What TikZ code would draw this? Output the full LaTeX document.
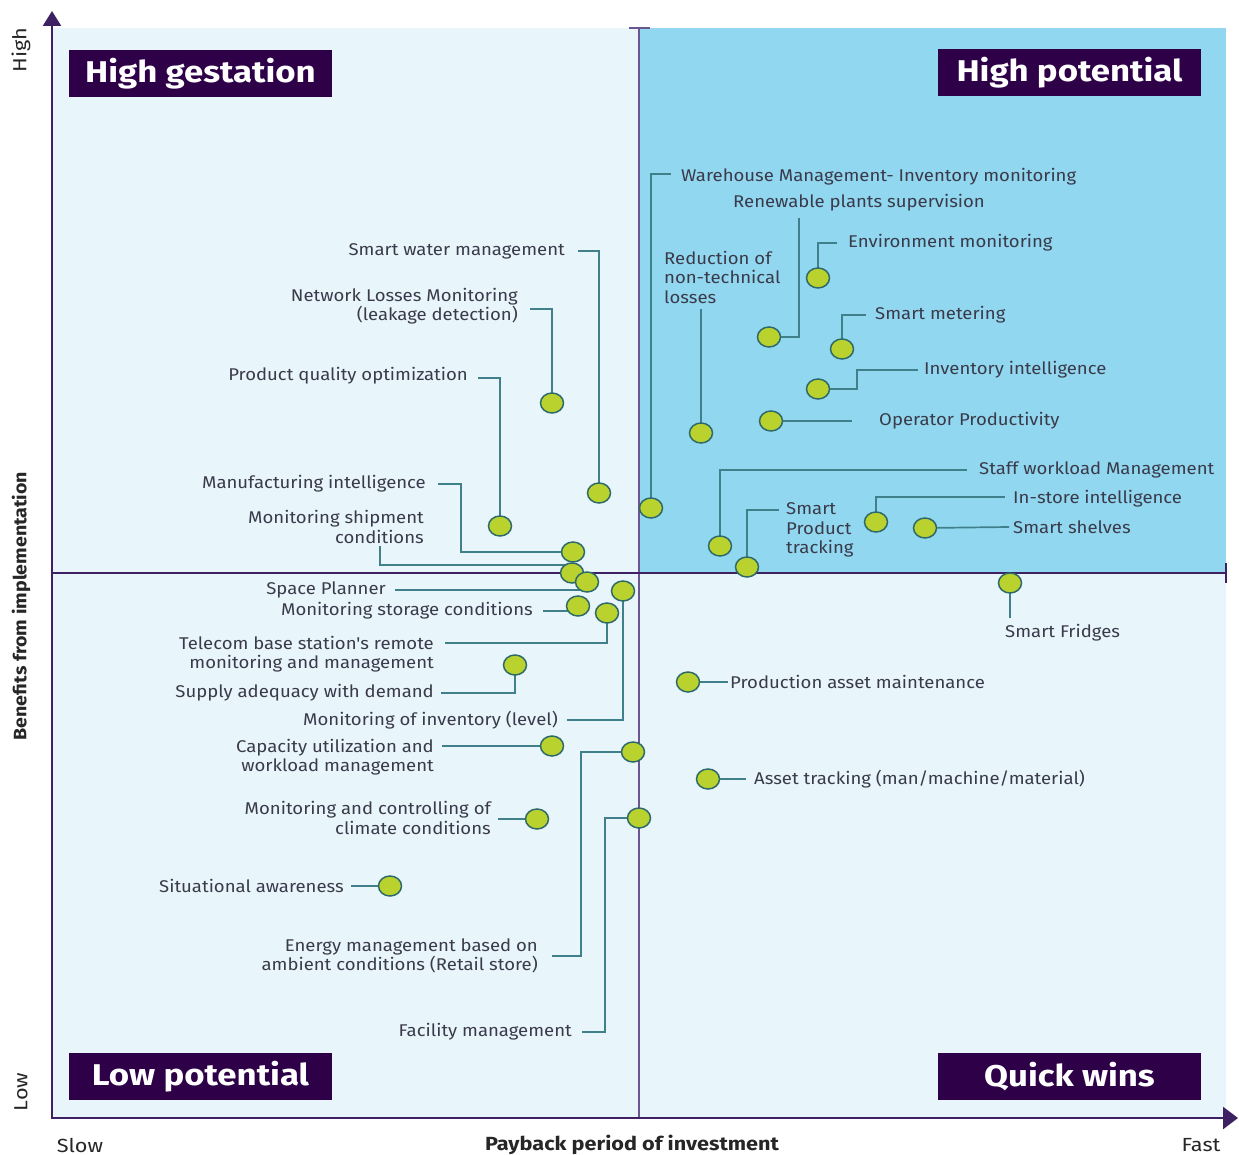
\documentclass[tikz,border=0pt]{standalone}
\usepackage{fontspec}
\setmainfont{Fira Sans}
\newfontfamily\lblfont[FakeStretch=1.09]{Fira Sans}
\newfontfamily\ttlfont[FakeStretch=1.16]{Fira Sans}
\newfontfamily\axfont[FakeStretch=1.14]{Fira Sans}
\usetikzlibrary{arrows.meta,shapes.geometric,calc}
\definecolor{bgl}{HTML}{E8F5FB}
\definecolor{bgd}{HTML}{91D7EF}
\definecolor{navy}{HTML}{2D0048}
\definecolor{axisc}{HTML}{3E2163}
\definecolor{midl}{HTML}{6A5690}
\definecolor{connc}{HTML}{3F808A}
\definecolor{dotf}{HTML}{BAD22E}
\definecolor{dotd}{HTML}{2E6A6A}
\definecolor{txt}{HTML}{3A3A4A}
\begin{document}
\begin{tikzpicture}[x=1pt,y=-1pt,
  lbl/.style={inner sep=0pt, text=txt, font=\lblfont\fontsize{17}{19.5}\selectfont},
  lblr/.style={lbl, anchor=east, align=right},
  lbll/.style={lbl, anchor=west, align=left},
  cn/.style={draw=connc, line width=1.7pt},
  dot/.style={ellipse, draw=dotd, fill=dotf, line width=1.5pt, minimum width=23pt, minimum height=20pt, inner sep=0pt},
  qtitle/.style={fill=navy, text=white, font=\ttlfont\fontsize{30}{32}\selectfont\bfseries, minimum width=263pt, minimum height=47pt, inner sep=0pt},
  axlbl/.style={inner sep=0pt, text=black!85, font=\axfont\fontsize{19}{21}\selectfont},
]
\useasboundingbox (0,0) rectangle (1239,1155);
% backgrounds
\fill[bgl] (52,28) rectangle (1226,1118);
\fill[bgd] (639,28) rectangle (1226,573);
% mid lines
\draw[midl, line width=2.5pt] (639,28) -- (639,1118);
\draw[midl, line width=2.5pt] (629,28) -- (650,28);
\draw[axisc, line width=2pt] (52,573) -- (1226,573);
\draw[axisc, line width=2pt] (1226,563) -- (1226,583);
% axes
\draw[axisc, line width=2.5pt, -{Triangle[length=15pt,width=18pt]}] (52,1119) -- (52,11);
\draw[axisc, line width=2.5pt, -{Triangle[length=15pt,width=22pt]}] (51,1118) -- (1238,1118);
% quadrant titles
\node[qtitle] (hg) at (200.5,73.5) {High gestation};
\node[qtitle] (hp) at (1069.5,73) {High potential};
\node[qtitle] (lp) at (200.5,1076.5) {Low potential};
\node[qtitle] (qw) at (1069.5,1076.5) {Quick wins};
% axis labels
\node[axlbl, rotate=90] (high) at (21,50) {High};
\node[axlbl, rotate=90] (low) at (21,1092) {Low};
\node[axlbl, rotate=90, font=\lblfont\fontsize{18}{20}\selectfont\bfseries] (ben) at (21,606) {Benefits from implementation};
\node[axlbl] (slow) at (80,1145) {Slow};
\node[axlbl, font=\axfont\fontsize{19}{21}\selectfont\bfseries] (pay) at (632,1145) {Payback period of investment};
\node[axlbl] (fast) at (1201,1145) {Fast};
% labels left
\node[lblr] (t1) at (565,251) {Smart water management};
\node[lblr] (t2) at (518,306) {Network Losses Monitoring\\(leakage detection)};
\node[lblr] (t3) at (468,376) {Product quality optimization};
\node[lblr] (t4) at (426,484) {Manufacturing intelligence};
\node[lblr] (t5) at (424,527) {Monitoring shipment\\conditions};
\node[lblr] (t6) at (386,590) {Space Planner};
\node[lblr] (t7) at (533,611) {Monitoring storage conditions};
\node[lblr] (t8) at (434,654) {Telecom base station's remote\\monitoring and management};
\node[lblr] (t9) at (434,693) {Supply adequacy with demand};
\node[lblr] (t10) at (558,720) {Monitoring of inventory (level)};
\node[lblr] (t11) at (434,757) {Capacity utilization and\\workload management};
\node[lblr] (t12) at (538,956) {Energy management based on\\ambient conditions (Retail store)};
\node[lblr] (t13) at (491,818) {Monitoring and controlling of\\climate conditions};
\node[lblr] (t14) at (572,1032) {Facility management};
\node[lblr] (t15) at (344,886) {Situational awareness};
% labels right
\node[lbll] (u16) at (681,177) {Warehouse Management- Inventory monitoring};
\node[lbll] (u17) at (733,203) {Renewable plants supervision};
\node[lbll] (u18) at (664,277) {Reduction of\\non-technical\\losses};
\node[lbll] (u19) at (848,243) {Environment monitoring};
\node[lbll] (u20) at (875,315) {Smart metering};
\node[lbll] (u21) at (924,370) {Inventory intelligence};
\node[lbll] (u22) at (879,421) {Operator Productivity};
\node[lbll] (u23) at (979,470) {Staff workload Management};
\node[lbll] (u24) at (1013,499) {In-store intelligence};
\node[lbll] (u25) at (1013,527) {Smart shelves};
\node[lbll] (u26) at (786,530) {Smart\\Product\\tracking};
\node[lbll] (u27) at (1005,633) {Smart Fridges};
\node[lbll] (u28) at (730,682) {Production asset maintenance};
\node[lbll] (u29) at (754,779) {Asset tracking (man/machine/material)};
% dot positions
\coordinate (d1) at (599,493);
\coordinate (d2) at (552,403);
\coordinate (d3) at (500,526);
\coordinate (d4) at (573,552);
\coordinate (d5) at (572,573);
\coordinate (d6) at (587,582);
\coordinate (d7) at (578,606);
\coordinate (d8) at (607,613);
\coordinate (d9) at (515,665);
\coordinate (d10) at (623,591);
\coordinate (d11) at (552,746);
\coordinate (d12) at (633,752);
\coordinate (d13) at (537,819);
\coordinate (d14) at (639,818);
\coordinate (d15) at (390,886);
\coordinate (d16) at (651,508);
\coordinate (d17) at (769,337);
\coordinate (d18) at (701,433);
\coordinate (d19) at (818,278);
\coordinate (d20) at (842,349);
\coordinate (d21) at (818,389);
\coordinate (d22) at (771,421);
\coordinate (d23) at (720,546);
\coordinate (d24) at (876,522);
\coordinate (d25) at (925,528);
\coordinate (d26) at (747,567);
\coordinate (d27) at (1010,583);
\coordinate (d28) at (688,682);
\coordinate (d29) at (708,779);
% connectors
\draw[cn] ([xshift=13pt]t1.east) -| (d1);
\draw[cn] ([xshift=12pt,yshift=-3pt]t2.east) -| (d2);
\draw[cn] ([xshift=10pt,yshift=-2pt]t3.east) -| (d3);
\draw[cn] ([xshift=12pt]t4.east) -- ++(23,0) |- (d4);
\draw[cn] ([xshift=-44pt,yshift=-2pt]t5.south east) |- ([yshift=8pt]d5);
\draw[cn] ([xshift=9pt]t6.east) -- (t6.east -| d6);
\draw[cn] ([xshift=10pt]t7.east) -- (t7.east -| d7);
\draw[cn] ([xshift=11pt,yshift=11pt]t8.east) -| (d8);
\draw[cn] ([xshift=7pt]t9.east) -| (d9);
\draw[cn] ([xshift=9pt]t10.east) -| (d10);
\draw[cn] ($(t11.east |- d11)+(8,0)$) -- (d11);
\draw[cn] ([xshift=14pt]t12.east) -- ++(29,0) |- (d12);
\draw[cn] ($(t13.east |- d13)+(7,0)$) -- (d13);
\draw[cn] ([xshift=10pt]t14.east) -- ++(23,0) |- (d14);
\draw[cn] ([xshift=7pt]t15.east) -- (d15);
\draw[cn] ([xshift=-10pt,yshift=3pt]u16.west) -| (d16);
\draw[cn] ([xshift=66pt,yshift=-15pt]u17.west) |- (d17);
\draw[cn] ($(u18.south -| d18)+(0,6)$) -- (d18);
\draw[cn] ([xshift=-11pt]u19.west) -| (d19);
\draw[cn] ([xshift=-9pt]u20.west) -| (d20);
\draw[cn] ([xshift=-6pt]u21.west) -- ++(-61,0) |- (d21);
\draw[cn] (d22) -- ($(u22.west)+(-27,0)$);
\draw[cn] ([xshift=-12pt]u23.west) -| (d23);
\draw[cn] ([xshift=-8pt,yshift=2pt]u24.west) -| (d24);
\draw[cn] (d25) -- ([xshift=-4pt]u25.west);
\draw[cn] ($(u26.west)+(-7,-20)$) -| (d26);
\draw[cn] (d27) -- ($(u27.north -| d27)+(0,-6)$);
\draw[cn] (d28) -- ([xshift=-2pt]u28.west);
\draw[cn] (d29) -- ([xshift=-8pt]u29.west);
% dots
\foreach \d in {1,2,3,4,5,6,7,8,9,10,11,12,13,14,15,16,17,18,19,20,21,22,23,24,25,26,27,28,29}
  \node[dot] (dot\d) at (d\d) {};
\end{tikzpicture}
\end{document}
